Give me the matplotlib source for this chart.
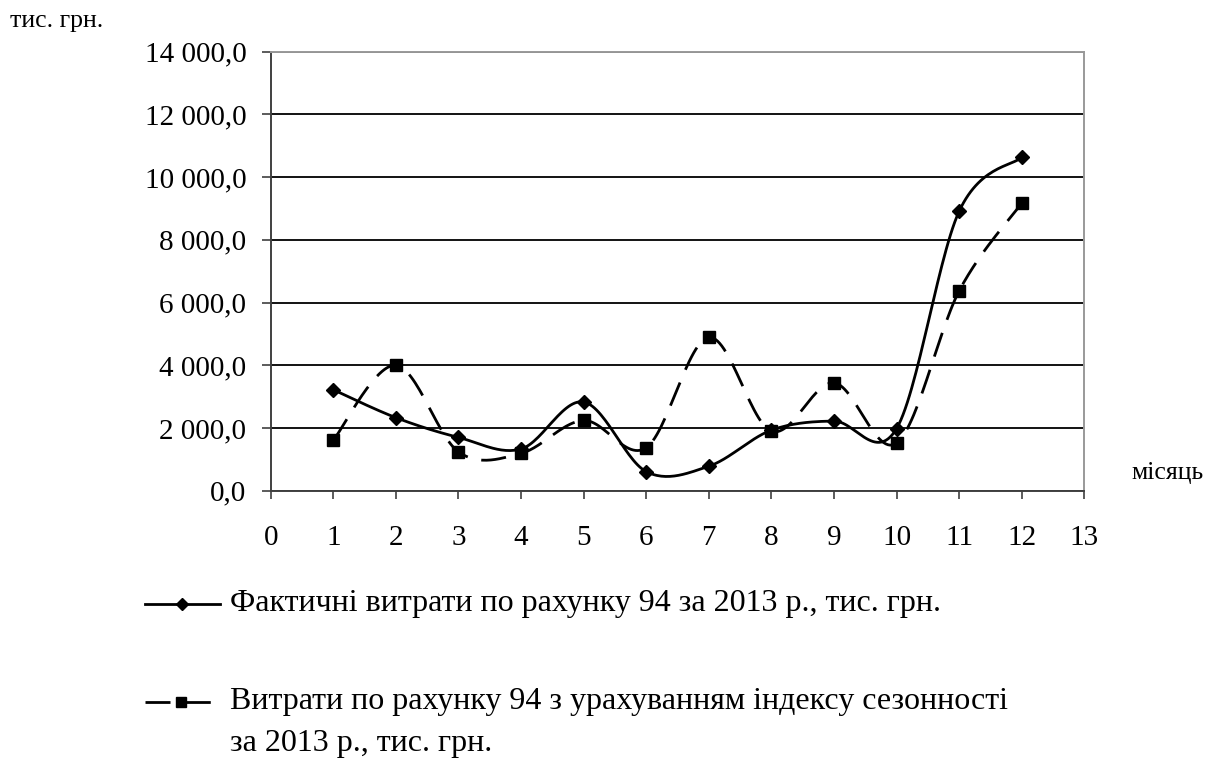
import numpy as np
import matplotlib
matplotlib.use("Agg")
import matplotlib.pyplot as plt
from matplotlib.lines import Line2D
from matplotlib.ticker import FuncFormatter, MultipleLocator

# monthly values, thousand UAH
months = [1, 2, 3, 4, 5, 6, 7, 8, 9, 10, 11, 12]
actual = [3220, 2330, 1700, 1330, 2830, 610, 780, 1930, 2220, 1980, 8910, 10630]
seasonal = [1610, 4000, 1240, 1190, 2240, 1370, 4890, 1900, 3440, 1520, 6370, 9170]

label_actual = "Фактичні витрати по рахунку 94 за 2013 р., тис. грн."
label_seasonal_1 = "Витрати по рахунку 94 з урахуванням індексу сезонності"
label_seasonal_2 = "за 2013 р., тис. грн."
y_unit = "тис. грн."
x_unit = "місяць"

W, H = 1205, 763
FONT = "Liberation Serif"
plt.rcParams['font.family'] = [FONT, 'DejaVu Serif']


def smooth(xs, ys, n=30):
    # Excel-like smoothed line (Catmull-Rom as cubic Bezier)
    p = np.column_stack([xs, ys]).astype(float)
    ext = np.vstack([p[0], p, p[-1]])
    out = [p[:1]]
    t = np.linspace(0, 1, n)[1:, None]
    for i in range(len(p) - 1):
        p0, p1, p2, p3 = ext[i], ext[i + 1], ext[i + 2], ext[i + 3]
        c1 = p1 + (p2 - p0) / 6
        c2 = p2 - (p3 - p1) / 6
        seg = ((1 - t) ** 3) * p1 + 3 * ((1 - t) ** 2) * t * c1 + 3 * (1 - t) * t ** 2 * c2 + t ** 3 * p2
        out.append(seg)
    q = np.vstack(out)
    return q[:, 0], q[:, 1]


def fx(x):
    return x / W


def fy(y):
    return 1 - y / H


def fmt(v, pos):
    return f"{v:,.1f}".replace(",", " ").replace(".", ",")


fig = plt.figure(figsize=(W / 100, H / 100), dpi=100)
ax = fig.add_axes([fx(270.7), fy(490.7), fx(1084.3) - fx(270.7), fy(51.7) - fy(490.7)])

dash = (0, (9, 5))
sx, sy = smooth(months, actual)
ax.plot(sx, sy, color="black", lw=2.0, solid_capstyle="butt")
ax.plot(months, actual, ls="none", marker="D", ms=7, color="black")
sx2, sy2 = smooth(months, seasonal)
ax.plot(sx2, sy2, color="black", lw=2.0, ls=dash, dash_capstyle="butt")
ax.plot(months, seasonal, ls="none", marker="s", ms=8.5, color="black")

ax.set_xlim(0, 13)
ax.set_ylim(0, 14000)
ax.xaxis.set_major_locator(MultipleLocator(1))
ax.yaxis.set_major_locator(MultipleLocator(2000))
ax.yaxis.set_major_formatter(FuncFormatter(fmt))
ax.grid(axis="y", color="black", lw=1.3)
ax.set_axisbelow(True)

for side in ("left", "bottom"):
    ax.spines[side].set_color("#404040")
    ax.spines[side].set_linewidth(1.4)
for side in ("top", "right"):
    ax.spines[side].set_color("#999999")
    ax.spines[side].set_linewidth(1.4)

ax.tick_params(axis="x", length=6, width=1.2, color="#404040", pad=19, labelsize=21)
ax.tick_params(axis="y", length=6.5, width=1.2, color="#404040", pad=11, labelsize=21)

fig.text(fx(10), fy(21), y_unit, fontsize=18.5, ha="left", va="center")
fig.text(fx(1131), fy(473), x_unit, fontsize=18.5, ha="left", va="center")

# legend
fig.add_artist(Line2D([fx(145), fx(220)], [fy(604), fy(604)], color="black", lw=2.0,
                      transform=fig.transFigure))
fig.add_artist(Line2D([fx(182)], [fy(604)], marker="D", ms=6.5, color="black", ls="none",
                      transform=fig.transFigure))
fig.text(fx(230), fy(603), label_actual, fontsize=23, ha="left", va="center")

fig.add_artist(Line2D([fx(145), fx(212)], [fy(702), fy(702)], color="black", lw=2.0,
                      ls=(0, (9, 5.5)), transform=fig.transFigure))
fig.add_artist(Line2D([fx(181)], [fy(702)], marker="s", ms=7.5, color="black", ls="none",
                      transform=fig.transFigure))
fig.text(fx(230), fy(701), label_seasonal_1, fontsize=23, ha="left", va="center")
fig.text(fx(230), fy(743), label_seasonal_2, fontsize=23, ha="left", va="center")

fig.savefig("out.png", dpi=100)
